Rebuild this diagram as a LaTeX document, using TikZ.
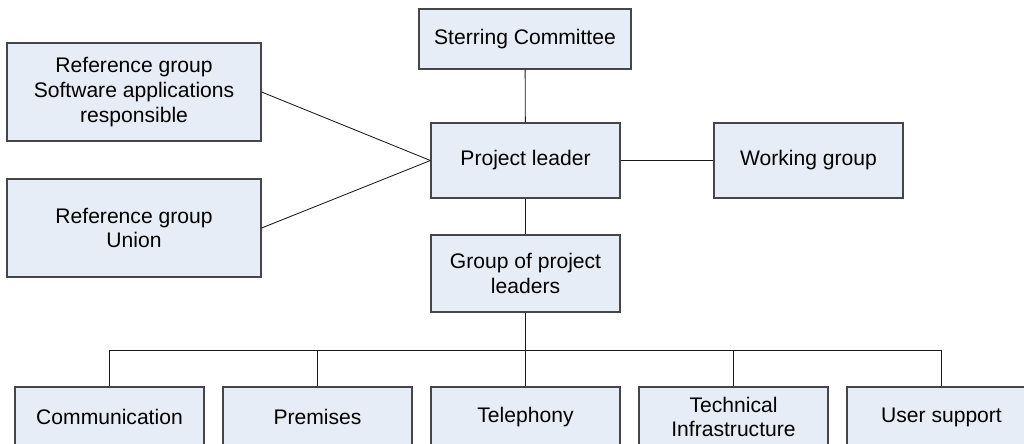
\documentclass[tikz,border=0pt]{standalone}
\usepackage{fontspec}
\setmainfont{Liberation Sans}
\definecolor{boxfill}{RGB}{231,237,247}
\definecolor{boxline}{RGB}{70,70,70}
\tikzset{
  orgbox/.style={draw=boxline, fill=boxfill, line width=0.8pt, align=center,
    inner sep=0pt, font=\fontsize{15}{17.7}\selectfont},
  link/.style={draw=black!90, line width=0.6pt}
}
\begin{document}
\begin{tikzpicture}[x=0.025cm, y=-0.025cm]
  \useasboundingbox (0,0) rectangle (1024,443);
  \clip (0,0) rectangle (1024,443);
  % top part
  \node[orgbox, minimum width=5.3cm, minimum height=1.5cm] (steer) at (525,39) {Sterring Committee};
  \node[orgbox, minimum width=4.725cm, minimum height=1.875cm] (lead) at (525.5,160.5) {Project leader};
  \node[orgbox, minimum width=4.725cm, minimum height=1.875cm] (work) at (808.5,160.5) {Working group};
  \node[orgbox, minimum width=6.35cm, minimum height=2.45cm] (refsw) at (134,92) {Reference group\\Software applications\\responsible};
  \node[orgbox, minimum width=6.35cm, minimum height=2.45cm] (refun) at (134,228) {Reference group\\Union};
  \node[orgbox, minimum width=4.725cm, minimum height=1.925cm] (grp) at (525.5,273.5) {Group of project\\leaders};
  \draw[link] (steer) -- (lead);
  \draw[link] (lead) -- (work);
  \draw[link] (lead) -- (grp);
  \draw[link] (refsw.east) -- (lead.west);
  \draw[link] (refun.east) -- (lead.west);
  % bottom row
  \coordinate (bar) at (525.5,350);
  \draw[link] (grp) -- (bar);
  \foreach \n/\x/\t in {comm/109.5/Communication, prem/317.5/Premises, tele/525.5/Telephony,
      tech/733.5/{Technical\\Infrastructure}, user/941.5/User support} {
    \node[orgbox, minimum width=4.725cm, minimum height=1.5cm] (\n) at (\x,417) {\t};
    \draw[link] (\n.north) |- (bar);
  }
\end{tikzpicture}
\end{document}
